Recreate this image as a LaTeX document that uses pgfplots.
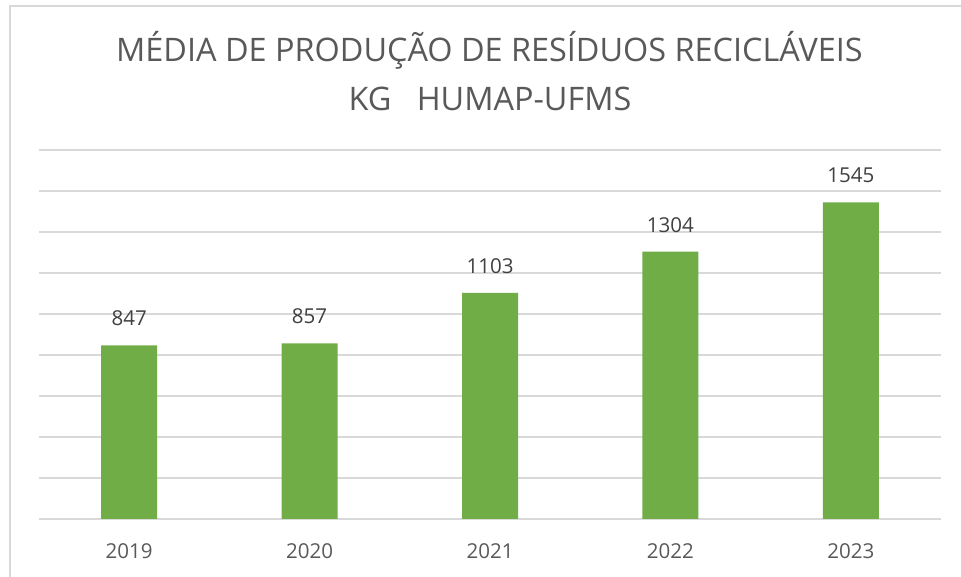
\documentclass[border=0pt]{standalone}
\usepackage{pgfplots}
\pgfplotsset{compat=1.18}
\usepackage{fontspec}
\setmainfont{Open Sans}
\definecolor{barg}{HTML}{70AD47}
\definecolor{gridc}{HTML}{D9D9D9}
\definecolor{txtc}{HTML}{595959}
\definecolor{lblc}{HTML}{404040}
\begin{document}
\begin{tikzpicture}
\path[use as bounding box] (0pt,0pt) rectangle (720.75pt,432.75pt);
\fill[white] (0pt,0pt) rectangle (720.75pt,432.75pt);
\draw[gridc, line width=1.5pt] (7.5pt,0pt) -- (7.5pt,428.25pt) -- (720.75pt,428.25pt);
\begin{axis}[
  at={(29.25pt,43.5pt)}, anchor=south west,
  scale only axis, width=676.5pt, height=276.75pt,
  ybar, bar width=42pt, bar shift=0pt,
  xmin=-0.5, xmax=4.5, ymin=0, ymax=1800,
  xtick={0,1,2,3,4}, xticklabels={2019,2020,2021,2022,2023},
  ytick={0,200,...,1800}, yticklabels={},
  major tick length=0pt,
  axis line style={draw=none},
  ymajorgrids, grid style={gridc, line width=1pt},
  xticklabel style={font=\fontsize{15.4pt}{18pt}\selectfont, text=txtc, inner sep=0pt, anchor=north, yshift=-18pt},
  /pgf/number format/assume math mode=true,
  /pgf/number format/1000 sep={},
  nodes near coords,
  every node near coord/.append style={font=\fontsize{15.4pt}{18pt}\selectfont, text=lblc, inner sep=0pt, anchor=south, yshift=14.25pt},
  clip=false,
]
\addplot[fill=barg, draw=none] coordinates {(0,847) (1,857) (2,1103) (3,1304) (4,1545)};
\end{axis}
\node[anchor=base, text=txtc, font=\fontsize{24.3pt}{29pt}\selectfont] at (367.1pt,386.25pt) {MÉDIA DE PRODUÇÃO DE RESÍDUOS RECICLÁVEIS};
\node[anchor=base, text=txtc, font=\fontsize{24.3pt}{29pt}\selectfont] at (367.5pt,349.5pt) {KG\ \ \ HUMAP-UFMS};
\end{tikzpicture}
\end{document}
